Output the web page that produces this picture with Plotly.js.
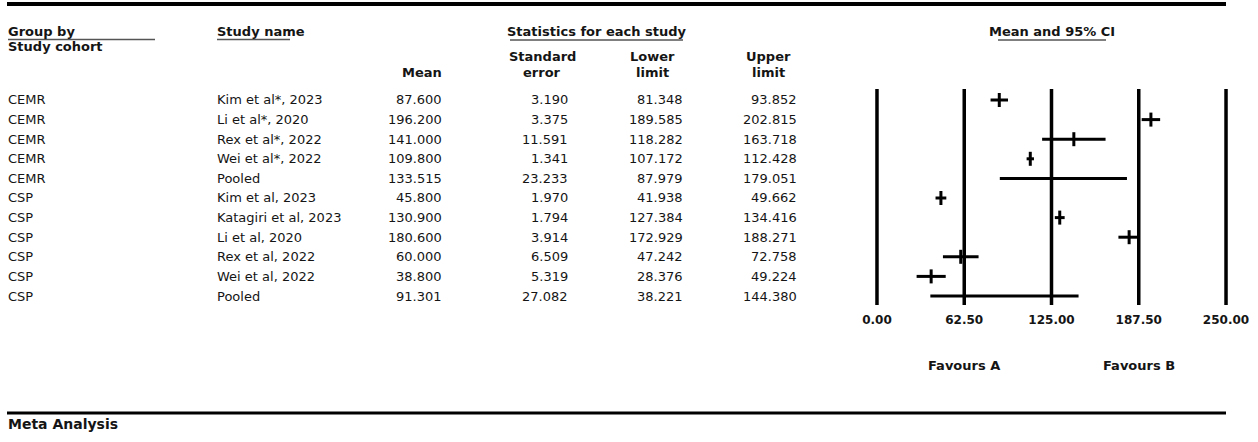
<!DOCTYPE html>
<html><head><meta charset="utf-8">
<script src="https://cdn.plot.ly/plotly-3.0.1.min.js"></script>
<style>html,body{margin:0;padding:0;background:#fff;}#chart{width:1258px;height:442px;}</style>
</head><body><div id="chart"></div>
<script>
// ---- data ----
const groups = ['CEMR','CEMR','CEMR','CEMR','CEMR','CSP','CSP','CSP','CSP','CSP','CSP'];
const studies = ['Kim et al*, 2023','Li et al*, 2020','Rex et al*, 2022','Wei et al*, 2022','Pooled',
  'Kim et al, 2023','Katagiri et al, 2023','Li et al, 2020','Rex et al, 2022','Wei et al, 2022','Pooled'];
const means = [87.600,196.200,141.000,109.800,133.515,45.800,130.900,180.600,60.000,38.800,91.301];
const stdErr = [3.190,3.375,11.591,1.341,23.233,1.970,1.794,3.914,6.509,5.319,27.082];
const lowerLimit = [81.348,189.585,118.282,107.172,87.979,41.938,127.384,172.929,47.242,28.376,38.221];
const upperLimit = [93.852,202.815,163.718,112.428,179.051,49.662,134.416,188.271,72.758,49.224,144.380];
const tickVals = [0, 62.5, 125, 187.5, 250];
const tickLabels = ['0.00','62.50','125.00','187.50','250.00'];
const favours = ['Favours A','Favours B'];
const favoursAt = [62.5, 187.5];

// ---- helpers ----
const W = 1258, H = 442;
const px = x => x / W;
const py = y => 1 - y / H;
const FONT = 'DejaVu Sans, Arial, sans-serif';
const TXT = '#151515';
const rows = studies.map((_, i) => i);
const pooled = i => studies[i] === 'Pooled';
const sel = (arr, keep) => arr.filter((_, i) => keep(i));
const notPooled = i => !pooled(i);

function ciTrace(keep, markerSize) {
  const m = sel(means, keep), lo = sel(lowerLimit, keep), up = sel(upperLimit, keep);
  return {
    type: 'scatter', mode: 'markers', cliponaxis: false,
    x: m, y: sel(rows, keep),
    marker: {symbol: 'line-ns', size: markerSize, color: '#000', line: {color: '#000', width: markerSize ? 3 : 0}},
    error_x: {type: 'data', symmetric: false,
      array: up.map((u, k) => u - m[k]), arrayminus: lo.map((l, k) => m[k] - l),
      width: 0, thickness: 3, color: '#000'},
    hoverinfo: 'skip', showlegend: false
  };
}
const traces = [ciTrace(notPooled, 10), ciTrace(pooled, 0)];

const ann = [];
function txt(text, x, y, anchor, bold, size, xref, yref) {
  ann.push({text, x, y, xref: xref || 'paper', yref: yref || 'paper', xanchor: anchor, yanchor: 'middle',
    showarrow: false, font: {family: FONT, size: size || 13, color: TXT, weight: bold ? 'bold' : 'normal'}});
}
const L = 6; // left text edge (compensates annotation padding)
// headers
txt('Group by', px(L), py(32), 'left', true);
txt('Study cohort', px(L), py(47), 'left', true);
txt('Study name', px(215), py(32), 'left', true);
txt('Statistics for each study', px(597), py(32), 'center', true);
txt('Mean', px(444), py(73), 'right', true);
txt('Standard', px(542), py(57), 'center', true);
txt('error', px(542), py(73), 'center', true);
txt('Lower', px(652), py(57), 'center', true);
txt('limit', px(652), py(73), 'center', true);
txt('Upper', px(768), py(57), 'center', true);
txt('limit', px(768), py(73), 'center', true);
txt('Mean and 95% CI', px(1052), py(32), 'center', true);
txt('Meta Analysis', px(L), py(424), 'left', true, 14);
favours.forEach((f, k) => txt(f, favoursAt[k], py(365), 'center', true, 13, 'x', 'paper'));

// table body
const cols = [
  {arr: groups, x: L, a: 'left', f: v => v},
  {arr: studies, x: 215, a: 'left', f: v => v},
  {arr: means, x: 444, a: 'right', f: v => v.toFixed(3)},
  {arr: stdErr, x: 570, a: 'right', f: v => v.toFixed(3)},
  {arr: lowerLimit, x: 685, a: 'right', f: v => v.toFixed(3)},
  {arr: upperLimit, x: 799, a: 'right', f: v => v.toFixed(3)}
];
cols.forEach(c => c.arr.forEach((v, i) => txt(c.f(v), px(c.x), rows[i], c.a, false, 13, 'paper', 'y')));

const shapes = [];
function hline(x0, x1, y, w, color) {
  shapes.push({type: 'line', xref: 'paper', yref: 'paper', x0: px(x0), x1: px(x1), y0: py(y), y1: py(y),
    line: {color: color || '#000', width: w}});
}
hline(7, 1226, 4, 4);
hline(7, 1226, 413, 3);
hline(8, 155, 39.5, 1.5, '#555');
hline(217, 290, 39.5, 1.5, '#555');
hline(510, 683, 40, 1.5, '#555');
hline(998, 1106, 40, 1.5, '#555');
tickVals.forEach(v => shapes.push({type: 'line', xref: 'x', yref: 'y domain', x0: v, x1: v, y0: 0, y1: 1,
  line: {color: '#000', width: 3.5}}));

const layout = {
  width: W, height: H, margin: {l: 0, r: 0, t: 0, b: 0},
  paper_bgcolor: '#fff', plot_bgcolor: 'rgba(0,0,0,0)',
  xaxis: {domain: [px(870), px(1233)], range: [-5, 255], tickmode: 'array', tickvals: tickVals, ticktext: tickLabels,
    showgrid: false, zeroline: false, showline: false, ticks: '', ticklabelstandoff: 6,
    tickfont: {family: FONT, size: 12, color: TXT, weight: 'bold'}, fixedrange: true},
  yaxis: {domain: [py(305), py(89)], range: [10.459, -0.5612], visible: false, showgrid: false, zeroline: false, fixedrange: true},
  shapes, annotations: ann, showlegend: false, hovermode: false,
  font: {family: FONT, color: TXT}
};
Plotly.newPlot('chart', traces, layout, {displayModeBar: false, staticPlot: true});
</script></body></html>
